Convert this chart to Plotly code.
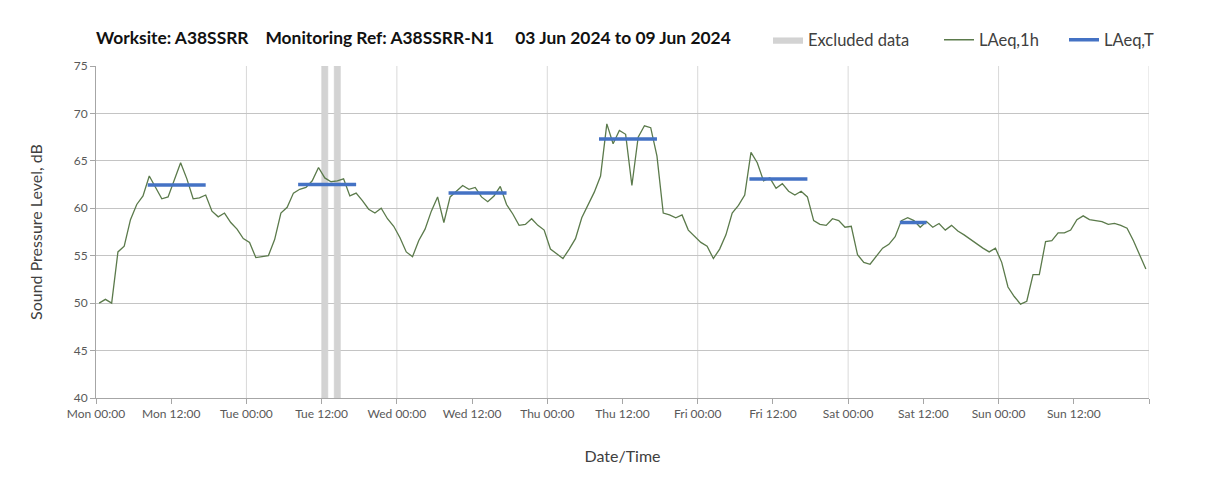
import pandas as pd
import plotly.graph_objects as go

# ---------------- data ----------------
title_text = "Worksite: A38SSRR\u00a0\u00a0\u00a0 Monitoring Ref: A38SSRR-N1\u00a0\u00a0\u00a0\u00a0 03 Jun 2024 to 09 Jun 2024"

series_start = "2024-06-03 00:30"   # hourly LAeq,1h values plotted at mid-hour
laeq_1h = [
    # Mon
    50.0, 50.4, 50.0, 55.4, 56.0, 58.8, 60.4, 61.3, 63.4, 62.2, 61.0, 61.2,
    62.9, 64.8, 63.1, 61.0, 61.1, 61.4, 59.7, 59.1, 59.5, 58.5, 57.8, 56.8,
    # Tue
    56.4, 54.8, 54.9, 55.0, 56.7, 59.5, 60.1, 61.6, 62.0, 62.2, 62.9, 64.3,
    63.2, 62.8, 62.9, 63.1, 61.3, 61.6, 60.8, 59.9, 59.5, 60.0, 58.9, 58.1,
    # Wed
    56.9, 55.4, 54.9, 56.6, 57.8, 59.7, 61.2, 58.5, 61.2, 61.8, 62.4, 62.0,
    62.2, 61.2, 60.7, 61.3, 62.3, 60.4, 59.4, 58.2, 58.3, 58.9, 58.2, 57.7,
    # Thu
    55.7, 55.2, 54.7, 55.7, 56.8, 59.0, 60.3, 61.7, 63.4, 68.9, 66.8, 68.2,
    67.8, 62.4, 67.5, 68.7, 68.5, 65.5, 59.5, 59.3, 59.0, 59.3, 57.7, 57.0,
    # Fri
    56.4, 56.0, 54.7, 55.7, 57.2, 59.5, 60.3, 61.4, 65.9, 64.8, 62.9, 63.2,
    62.1, 62.6, 61.8, 61.4, 61.8, 61.2, 58.7, 58.3, 58.2, 58.9, 58.7, 58.0,
    # Sat
    58.1, 55.1, 54.3, 54.1, 54.9, 55.8, 56.2, 57.0, 58.7, 59.0, 58.7, 58.0,
    58.6, 58.0, 58.4, 57.7, 58.2, 57.6, 57.2, 56.7, 56.2, 55.8, 55.4, 55.8,
    # Sun
    54.3, 51.7, 50.7, 49.9, 50.2, 53.0, 53.0, 56.5, 56.6, 57.4, 57.4, 57.7,
    58.8, 59.2, 58.8, 58.7, 58.6, 58.3, 58.4, 58.2, 57.9, 56.6, 55.1, 53.6,
]

period_starts = ["2024-06-03 08:15", "2024-06-04 08:15", "2024-06-05 08:15",
                 "2024-06-06 08:15", "2024-06-07 08:15", "2024-06-08 08:15"]
period_ends = ["2024-06-03 17:30", "2024-06-04 17:30", "2024-06-05 17:30",
               "2024-06-06 17:30", "2024-06-07 17:30", "2024-06-08 12:30"]
laeq_T = [62.45, 62.5, 61.6, 67.3, 63.1, 58.5]

excluded_starts = ["2024-06-04 12:00", "2024-06-04 14:00"]
excluded_ends = ["2024-06-04 13:00", "2024-06-04 15:00"]

tick_vals = ["2024-06-03 00:00", "2024-06-03 12:00", "2024-06-04 00:00", "2024-06-04 12:00",
             "2024-06-05 00:00", "2024-06-05 12:00", "2024-06-06 00:00", "2024-06-06 12:00",
             "2024-06-07 00:00", "2024-06-07 12:00", "2024-06-08 00:00", "2024-06-08 12:00",
             "2024-06-09 00:00", "2024-06-09 12:00", "2024-06-10 00:00"]
tick_text = ["Mon 00:00", "Mon 12:00", "Tue 00:00", "Tue 12:00", "Wed 00:00", "Wed 12:00",
             "Thu 00:00", "Thu 12:00", "Fri 00:00", "Fri 12:00", "Sat 00:00", "Sat 12:00",
             "Sun 00:00", "Sun 12:00", ""]
day_lines = ["2024-06-04 00:00", "2024-06-05 00:00", "2024-06-06 00:00", "2024-06-07 00:00",
             "2024-06-08 00:00", "2024-06-09 00:00", "2024-06-10 00:00"]

y_min, y_max = 40, 75
x_min, x_max = "2024-06-03 00:00", "2024-06-10 00:00"

# ---------------- figure ----------------
FONT = "Lato, 'Open Sans', sans-serif"
times = pd.date_range(series_start, periods=len(laeq_1h), freq="h")

# excluded data as filled rectangles
ex_x, ex_y = [], []
for s, e in zip(excluded_starts, excluded_ends):
    ex_x += [s, s, e, e, s, None]
    ex_y += [y_min, y_max, y_max, y_min, y_min, None]

# LAeq,T segments
t_x, t_y = [], []
for s, e, v in zip(period_starts, period_ends, laeq_T):
    t_x += [s, e, None]
    t_y += [v, v, None]

fig = go.Figure()
fig.add_trace(go.Scatter(
    x=ex_x, y=ex_y, mode="lines", fill="toself", fillcolor="#d3d3d3",
    line=dict(width=0.5, color="#d3d3d3"), name="Excluded data",
    hoverinfo="skip", showlegend=True, legend="legend"))
fig.add_trace(go.Scatter(
    x=times, y=laeq_1h, mode="lines", line=dict(color="#5b7a4b", width=1.3),
    name="LAeq,1h", showlegend=True, legend="legend2"))
fig.add_trace(go.Scatter(
    x=t_x, y=t_y, mode="lines", line=dict(color="#4472C4", width=3.5),
    name="LAeq,T", showlegend=True, legend="legend3"))

shapes = []
for d in day_lines:
    shapes.append(dict(type="line", xref="x", yref="y domain", x0=d, x1=d, y0=0, y1=1,
                       line=dict(color="#d9d9d9", width=1), layer="below"))

L, R, T, B = 96, 59, 66, 94
W, H = 1208, 492
pw = W - L - R
ph = H - T - B

def lx(px):
    return (px - L) / pw

ly = 1 + (T - 40) / ph

legend_common = dict(orientation="h", yanchor="middle", y=ly, xanchor="left",
                     font=dict(family=FONT, size=16.5, color="#404040"),
                     bgcolor="rgba(0,0,0,0)", itemwidth=30, visible=True)

fig.update_layout(
    width=W, height=H,
    showlegend=True,
    margin=dict(l=L, r=R, t=T, b=B),
    paper_bgcolor="white", plot_bgcolor="white",
    font=dict(family=FONT, color="#595959"),
    title=dict(text="<b>" + title_text + "</b>", x=0, xref="paper", xanchor="left",
               y=1 - 38 / H, yref="container", yanchor="middle",
               font=dict(family=FONT, size=17.4, color="#111111")),
    legend=dict(x=lx(768), **legend_common),
    legend2=dict(x=lx(939), **legend_common),
    legend3=dict(x=lx(1064), **legend_common),
    shapes=shapes,
    xaxis=dict(
        type="date", range=[x_min, x_max], tickmode="array",
        tickvals=tick_vals, ticktext=tick_text, showgrid=False, zeroline=False,
        showline=True, linecolor="#a6a6a6", linewidth=1,
        ticks="outside", ticklen=5, tickcolor="#a6a6a6",
        tickfont=dict(family=FONT, size=12, color="#595959"),
        title=dict(text="Date/Time", standoff=30,
                   font=dict(family=FONT, size=16, color="#404040")),
    ),
    yaxis=dict(
        range=[y_min, y_max], dtick=5, tick0=40, showgrid=True, gridcolor="#c4c4c4",
        zeroline=False, showline=True, linecolor="#a6a6a6", linewidth=1,
        ticks="outside", ticklen=5, tickcolor="#a6a6a6",
        tickfont=dict(family=FONT, size=12, color="#595959"),
        title=dict(text="Sound Pressure Level, dB", standoff=27,
                   font=dict(family=FONT, size=16, color="#404040")),
    ),
)

fig.write_html("out.html", config={"displayModeBar": False},
               post_script="document.body.style.margin='0';")
